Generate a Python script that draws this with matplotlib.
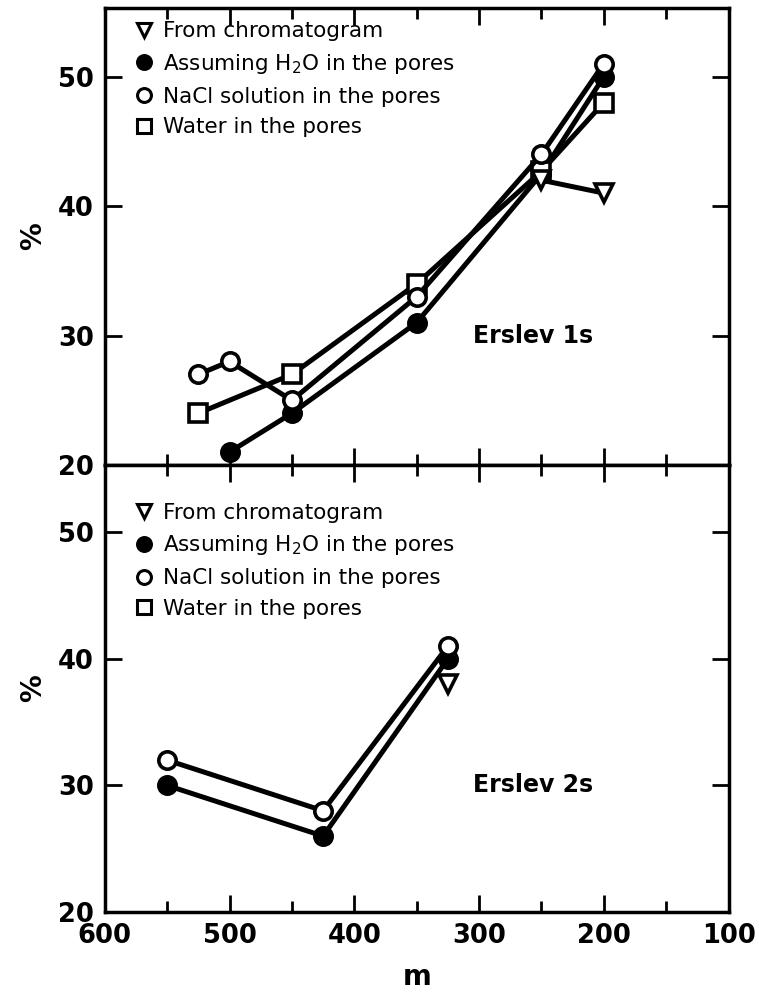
import matplotlib.pyplot as plt
from matplotlib.lines import Line2D
from matplotlib.ticker import MultipleLocator

# Erslev 1s
m1_tri = [250, 200]
p1_tri = [42, 41]
m1_fill = [500, 450, 350, 250, 200]
p1_fill = [21, 24, 31, 42.5, 50]
m1_open = [525, 500, 450, 350, 250, 200]
p1_open = [27, 28, 25, 33, 44, 51]
m1_sq = [525, 450, 350, 250, 200]
p1_sq = [24, 27, 34, 42.7, 48]

# Erslev 2s
m2_tri = [325]
p2_tri = [38]
m2_fill = [550, 425, 325]
p2_fill = [30, 26, 40]
m2_open = [550, 425, 325]
p2_open = [32, 28, 41]

labels = ['From chromatogram', 'Assuming H$_2$O in the pores',
          'NaCl solution in the pores', 'Water in the pores']

plt.rcParams['font.family'] = 'DejaVu Sans'

fig = plt.figure(figsize=(7.59, 9.99), dpi=100)
ax1 = fig.add_axes([0.138, 0.5345, 0.822, 0.4575])
ax2 = fig.add_axes([0.138, 0.087, 0.822, 0.4475])

lw = 3.6
mk = dict(markersize=12.5, markeredgewidth=2.6, markeredgecolor='black', color='black', linewidth=lw)


def series(ax, x, y, marker, filled):
    ax.plot(x, y, marker=marker, markerfacecolor='black' if filled else 'white', **mk)


series(ax1, m1_fill, p1_fill, 'o', True)
series(ax1, m1_sq, p1_sq, 's', False)
series(ax1, m1_open, p1_open, 'o', False)
series(ax1, m1_tri, p1_tri, 'v', False)

series(ax2, m2_fill, p2_fill, 'o', True)
series(ax2, m2_open, p2_open, 'o', False)
series(ax2, m2_tri, p2_tri, 'v', False)

hk = dict(linestyle='none', markersize=10, markeredgecolor='black', markeredgewidth=2.2)
handles = [
    Line2D([], [], marker='v', markerfacecolor='white', **hk),
    Line2D([], [], marker='o', markerfacecolor='black', **hk),
    Line2D([], [], marker='o', markerfacecolor='white', **hk),
    Line2D([], [], marker='s', markerfacecolor='white', **hk),
]

for ax, name, top in [(ax1, 'Erslev 1s', 0.99), (ax2, 'Erslev 2s', 0.935)]:
    ax.set_xlim(600, 100)
    ax.set_ylim(20, 55.3)
    ax.xaxis.set_major_locator(MultipleLocator(100))
    ax.xaxis.set_minor_locator(MultipleLocator(50))
    ax.yaxis.set_major_locator(MultipleLocator(10))
    ax.tick_params(which='both', direction='in', top=True, right=True, width=2)
    ax.tick_params(which='major', length=12, labelsize=18.5, pad=8)
    ax.tick_params(which='minor', length=8)
    for lab in ax.get_xticklabels() + ax.get_yticklabels():
        lab.set_fontweight('bold')
    for s in ax.spines.values():
        s.set_linewidth(2.5)
    ax.set_ylabel('%', fontsize=20, fontweight='bold', labelpad=8)
    ax.text(257, 30, name, fontsize=17, fontweight='bold', ha='center', va='center')
    ax.legend(handles, labels, loc='upper left', frameon=False, fontsize=15.5,
              handlelength=0.8, handletextpad=0.5, labelspacing=0.5,
              borderaxespad=0.0, bbox_to_anchor=(0.035, top))

ax1.tick_params(labelbottom=False)
ax2.set_xlabel('m', fontsize=20, fontweight='bold', labelpad=10)

fig.savefig('out.png', dpi=100)
